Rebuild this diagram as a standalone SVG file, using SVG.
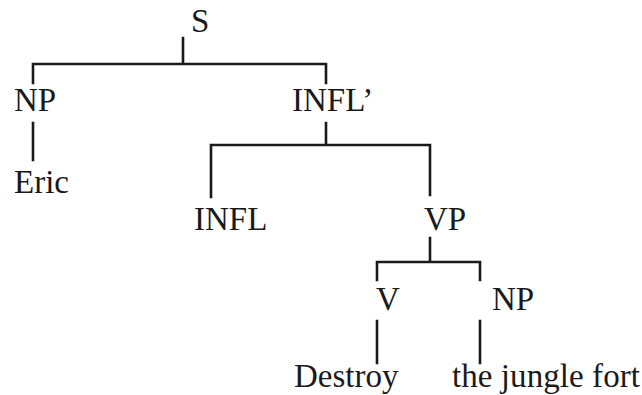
<svg xmlns="http://www.w3.org/2000/svg" width="642" height="395" viewBox="0 0 642 395">
<style>
text{font-family:"Liberation Serif","Times New Roman",serif;font-size:33px;fill:#1a1a1a}
.e{stroke:#1a1a1a;stroke-width:2.6;fill:none;stroke-linecap:square;stroke-linejoin:miter}
</style>
<rect width="642" height="395" fill="#fff"/>
<g id="connectors">
<path class="e" d="M183 38V64M33 83V64H326V83"/>
<path class="e" d="M33 123V160"/>
<path class="e" d="M326 123V145M211 197V145H430V195"/>
<path class="e" d="M430 238V262M377 280V262H480V280"/>
<path class="e" d="M377 321V363M480 321V363"/>
</g>
<g id="S"><text x="191" y="32">S</text></g>
<g id="NP1"><text x="14" y="111">NP</text></g>
<g id="INFLbar"><text x="292" y="111">INFL’</text></g>
<g id="Eric"><text x="14" y="193">Eric</text></g>
<g id="INFL"><text x="194" y="230">INFL</text></g>
<g id="VP"><text x="424" y="230">VP</text></g>
<g id="V"><text x="376" y="310">V</text></g>
<g id="NP2"><text x="492" y="310">NP</text></g>
<g id="Destroy"><text x="294" y="387">Destroy</text></g>
<g id="jungle"><text x="452" y="387" textLength="188" lengthAdjust="spacing">the jungle fort</text></g>
</svg>
